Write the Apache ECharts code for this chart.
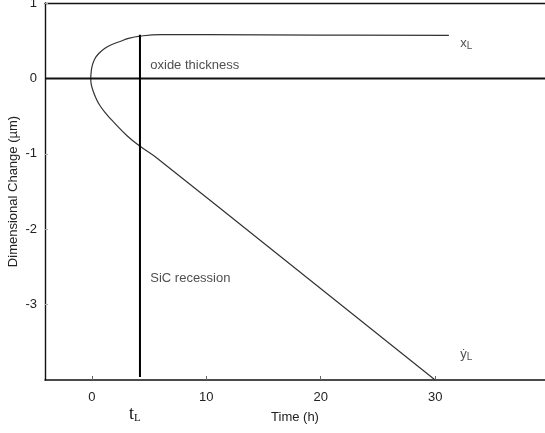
<!DOCTYPE html>
<html><head><meta charset="utf-8">
<script src="https://cdn.jsdelivr.net/npm/echarts@6/dist/echarts.min.js"></script>
<style>html,body{margin:0;padding:0;background:#fff}#c{width:545px;height:433px}</style>
</head><body><div id="c"></div>
<script>
// Oxide thickness (upper branch, x_L) then SiC recession (lower branch, y_L)
const curveTime = [31.2, 20, 10, 6.0, 4.2, 3.2, 2.46, 1.75, 1.14, 0.6, 0.26, 0.03, -0.06, -0.1, -0.07, 0.09, 0.35, 0.70, 1.25, 1.84, 3.07, 4.21, 5.7, 30.0];
const curveValue = [0.57, 0.575, 0.58, 0.58, 0.56, 0.53, 0.49, 0.45, 0.40, 0.33, 0.26, 0.17, 0.09, 0.0, -0.07, -0.16, -0.26, -0.36, -0.47, -0.57, -0.76, -0.90, -1.06, -4.0];
const tL = 4.2;
const tLRange = [0.58, -3.96];
const xTicks = [0, 10, 20, 30];
const yTicks = [1, 0, -1, -2, -3];
const annotations = [
  {t: 5.1, v: 0.17, text: 'oxide thickness'},
  {t: 5.1, v: -2.65, text: 'SiC recession'},
  {t: 32.2, v: 0.46, text: '{m|x}{s|L}'},
  {t: 32.2, v: -3.66, text: '{m|ẏ}{s|L}'}
];

const FONT = 'Arial, "Liberation Sans", sans-serif';
const chart = echarts.init(document.getElementById('c'));
const curve = curveTime.map((t, i) => [t, curveValue[i]]);
chart.setOption({
  animation: false,
  backgroundColor: '#fff',
  grid: {left: 45, right: 0, top: 3, bottom: 53, containLabel: false, outerBoundsMode: 'none'},
  xAxis: [{
    type: 'value', min: -4.1, max: 39.6,
    axisLine: {onZero: false, lineStyle: {color: '#111', width: 1.6}},
    axisTick: {show: true, inside: true, length: 4, customValues: xTicks, lineStyle: {color: '#666'}},
    axisLabel: {customValues: xTicks, color: '#222', fontSize: 13, fontFamily: FONT, margin: 11},
    splitLine: {show: false},
    name: 'Time (h)', nameLocation: 'middle', nameGap: 31, nameMoveOverlap: false,
    nameTextStyle: {color: '#222', fontSize: 13, fontFamily: FONT}
  }, {
    type: 'value', position: 'top', min: -4.1, max: 39.6,
    axisLine: {show: true, onZero: false, lineStyle: {color: '#111', width: 1.4}},
    axisTick: {show: false}, axisLabel: {show: false}, splitLine: {show: false}
  }],
  yAxis: {
    type: 'value', min: -4, max: 1, interval: 1,
    axisLine: {show: true, onZero: false, lineStyle: {color: '#111', width: 1.4}},
    axisTick: {show: true, inside: true, length: 3, customValues: yTicks, lineStyle: {color: '#aaa'}},
    axisLabel: {customValues: yTicks, color: '#222', fontSize: 13, fontFamily: FONT, margin: 8},
    splitLine: {show: false},
    name: 'Dimensional Change (µm)', nameLocation: 'middle', nameGap: 25, nameMoveOverlap: false,
    nameTextStyle: {color: '#222', fontSize: 13, fontFamily: FONT}
  },
  series: [
    {
      type: 'line', data: curve, smooth: 0.45, showSymbol: false,
      lineStyle: {color: '#333', width: 1.2}
    },
    {
      type: 'line', data: [[-4.1, 0], [39.6, 0]], showSymbol: false,
      lineStyle: {color: '#111', width: 2}
    },
    {
      type: 'line', data: [[tL, tLRange[0]], [tL, tLRange[1]]], showSymbol: false,
      lineStyle: {color: '#000', width: 2}
    },
    {
      type: 'scatter', symbolSize: 0, clip: false,
      data: annotations.map(a => ({value: [a.t, a.v], label: {formatter: a.text}})),
      label: {
        show: true, position: 'right', distance: 0, color: '#222', fontSize: 13, fontFamily: FONT,
        rich: {m: {fontSize: 13, fontFamily: FONT, color: '#222'}, s: {fontSize: 10, fontFamily: FONT, color: '#222', verticalAlign: 'bottom', padding: [6, 0, 0, 0]}}
      }
    }
  ],
  graphic: [{
    type: 'text', left: 129, top: 405,
    style: {text: '{t|t}{l|L}', rich: {t: {fontSize: 18, fontFamily: '"Liberation Serif", "Times New Roman", serif', fill: '#111'}, l: {fontSize: 11, fontFamily: '"Liberation Serif", serif', fill: '#111', padding: [9, 0, 0, 0]}}}
  }]
});
</script></body></html>
